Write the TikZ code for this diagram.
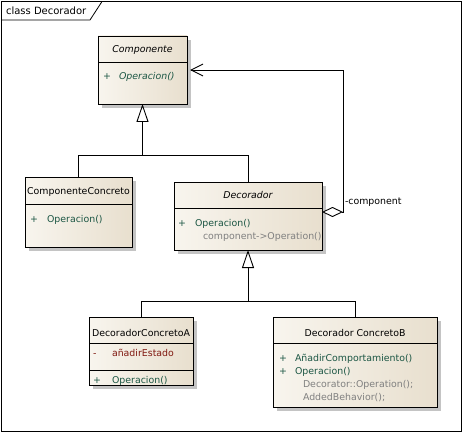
\documentclass[tikz,border=0pt]{standalone}
\usepackage{fontspec}
\setmainfont{DejaVu Sans}
\usetikzlibrary{arrows.meta,shadows}
\definecolor{boxleft}{RGB}{248,245,238}
\definecolor{boxright}{RGB}{232,223,206}
\definecolor{opgreen}{RGB}{28,86,68}
\definecolor{attred}{RGB}{128,24,16}
\definecolor{notegray}{RGB}{128,128,128}
\definecolor{shadowgray}{RGB}{196,196,196}
\newcommand{\diafont}{\fontsize{9.4}{11}\selectfont}
\tikzset{
  x=1pt, y=-1pt,
  every node/.style={inner sep=0pt, outer sep=0pt},
  classbox/.style={draw=black, line width=0.9pt, anchor=north west,
    left color=boxleft, right color=boxright,
    drop shadow={shadow xshift=4pt, shadow yshift=-4pt, fill=shadowgray, opacity=1}},
  txt/.style={font=\diafont, anchor=base west},
  title/.style={font=\diafont, anchor=base},
  optxt/.style={txt, text=opgreen},
  notetxt/.style={txt, text=notegray},
  sep/.style={line width=0.9pt},
  conn/.style={line width=0.9pt},
  gen/.style={conn, -{Triangle[open, length=18pt, width=12pt, fill=white]}},
  agg/.style={conn, {Diamond[open, length=21pt, width=10pt, fill=white]}-{Straight Barb[length=12pt, width=12pt]}},
}
\begin{document}
\begin{tikzpicture}
\useasboundingbox (0,0) rectangle (463,433);
% diagram frame and its tab
\node[draw=black, line width=0.8pt, minimum width=460pt, minimum height=430pt, anchor=north west] (frame) at (1.5,1.5) {};
\draw[line width=0.8pt] (1.5,20) -- (90,20) -- (102,1.5);
\node[txt, font=\fontsize{10}{11}\selectfont] (frametitle) at (6,15) {class Decorador};

% Componente
\node[classbox, minimum width=89pt, minimum height=68pt] (comp) at (98,36) {};
\draw[sep] (98,62) -- (187,62);
\node[title, font=\diafont\itshape] (compname) at (142.5,53) {Componente};
\node[optxt] (compplus) at (103,80) {+};
\node[optxt, font=\diafont\itshape] (compop) at (119,80) {Operacion()};

% ComponenteConcreto
\node[classbox, minimum width=107pt, minimum height=70pt] (cc) at (25,177) {};
\draw[sep] (25,204) -- (132,204);
\node[title] (ccname) at (78.5,194) {ComponenteConcreto};
\node[optxt] (ccplus) at (30,222) {+};
\node[optxt] (ccop) at (47,222) {Operacion()};

% Decorador
\node[classbox, minimum width=148pt, minimum height=68pt] (dec) at (174,182) {};
\draw[sep] (174,208) -- (322,208);
\node[title, font=\diafont\itshape] (decname) at (248,198) {Decorador};
\node[optxt] (decplus) at (178,226) {+};
\node[optxt] (decop) at (195,226) {Operacion()};
\node[notetxt] (decnote) at (203,239) {component->Operation()};

% DecoradorConcretoA
\node[classbox, minimum width=104pt, minimum height=68pt] (dca) at (89,317) {};
\draw[sep] (89,343) -- (193,343);
\draw[sep] (89,370) -- (193,370);
\node[title] (dcaname) at (141,336) {DecoradorConcretoA};
\node[txt, text=attred] (dcaminus) at (93,356) {-};
\node[txt, text=attred] (dcaatt) at (112,356) {añadirEstado};
\node[optxt] (dcaplus) at (93,383) {+};
\node[optxt] (dcaop) at (112,383) {Operacion()};

% Decorador ConcretoB
\node[classbox, minimum width=164pt, minimum height=90pt] (dcb) at (273,317) {};
\draw[sep] (273,343) -- (437,343);
\node[title] (dcbname) at (355,336) {Decorador ConcretoB};
\node[optxt] (dcbplus1) at (279,361) {+};
\node[optxt] (dcbop1) at (295,361) {AñadirComportamiento()};
\node[optxt] (dcbplus2) at (279,374) {+};
\node[optxt] (dcbop2) at (295,374) {Operacion()};
\node[notetxt] (dcbnote1) at (303,387) {Decorator::Operation();};
\node[notetxt] (dcbnote2) at (303,400) {AddedBehavior();};

% generalisations
\coordinate (j1) at (142.5,155);
\coordinate (j2) at (248,301);
\draw[conn] (cc.north) |- (j1);
\draw[gen] (dec.north) |- (j1) -- (comp.south);
\draw[conn] (dcb.north) |- (j2);
\draw[gen] (dca.north) |- (j2) -- (dec.south);

% aggregation Decorador -> Componente
\coordinate (aggcorner) at (343,70);
\draw[agg] ([yshift=4pt]dec.east) -| (aggcorner) -- ([xshift=3pt]comp.east);
\node[txt] (agglabel) at (345,204) {-component};
\end{tikzpicture}
\end{document}
